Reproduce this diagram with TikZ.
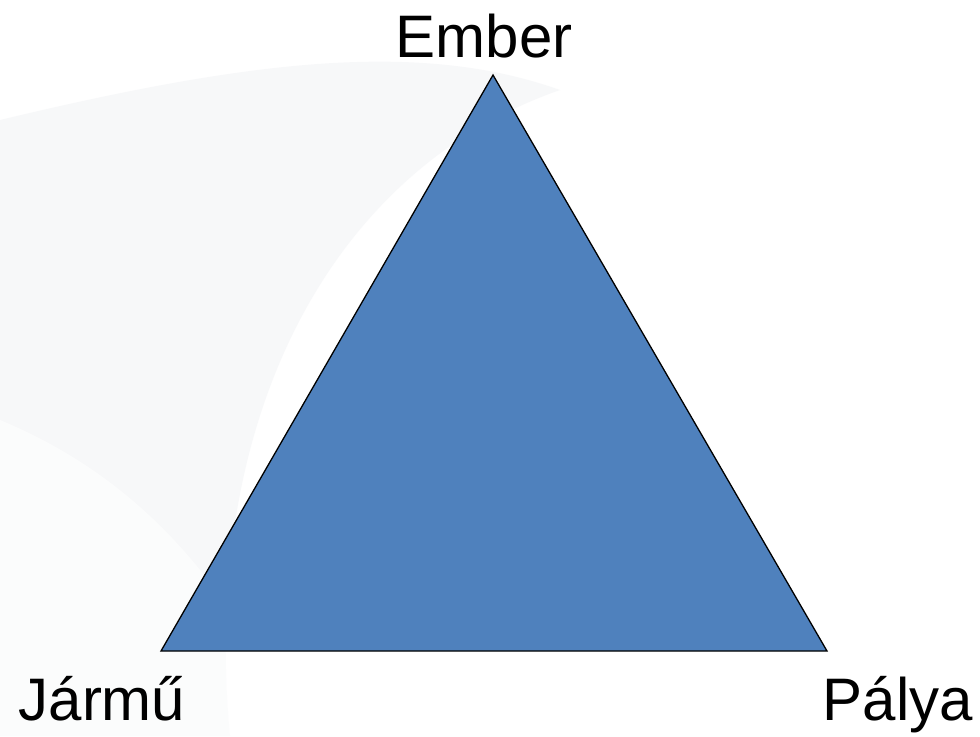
\documentclass[tikz,border=0pt]{standalone}
\usepackage{fontspec}
\setmainfont{Liberation Sans}
\usetikzlibrary{positioning}
\definecolor{triblue}{HTML}{4F81BD}
\definecolor{swoosh}{HTML}{EFF0F3}
\begin{document}
\begin{tikzpicture}[x=0.5pt,y=-0.5pt,semithick]
			\tikzstyle{corner}=[font=\fontsize{30}{36}\selectfont,inner sep=0pt,anchor=base]
			\tikzstyle{side}=[draw=black,line width=0.65pt,fill=triblue,line join=miter]
			\useasboundingbox (0,0) rectangle (980,736);
			\fill[white] (0,0) rectangle (980,736);
			% faint slide background
			\fill[swoosh,opacity=0.45] (0,120) .. controls (250,60) and (420,40) .. (560,90)
			.. controls (330,170) and (200,420) .. (230,736) -- (0,736) -- cycle;
			\fill[white,opacity=0.6] (0,420) .. controls (120,470) and (220,560) .. (300,736) -- (0,736) -- cycle;
			
			\coordinate (top)   at (493,75);
			\coordinate (left)  at (161,651);
			\coordinate (right) at (827,651);
			
			\draw[side] (top) -- (left) -- (right) -- cycle;
			
			\node[corner] (ember) at (484,57)  {Ember};
			\node[corner] (jarmu) at (102,720) {Jármű};
			\node[corner] (palya) at (898,720) {Pálya};
			\end{tikzpicture}
\end{document}
